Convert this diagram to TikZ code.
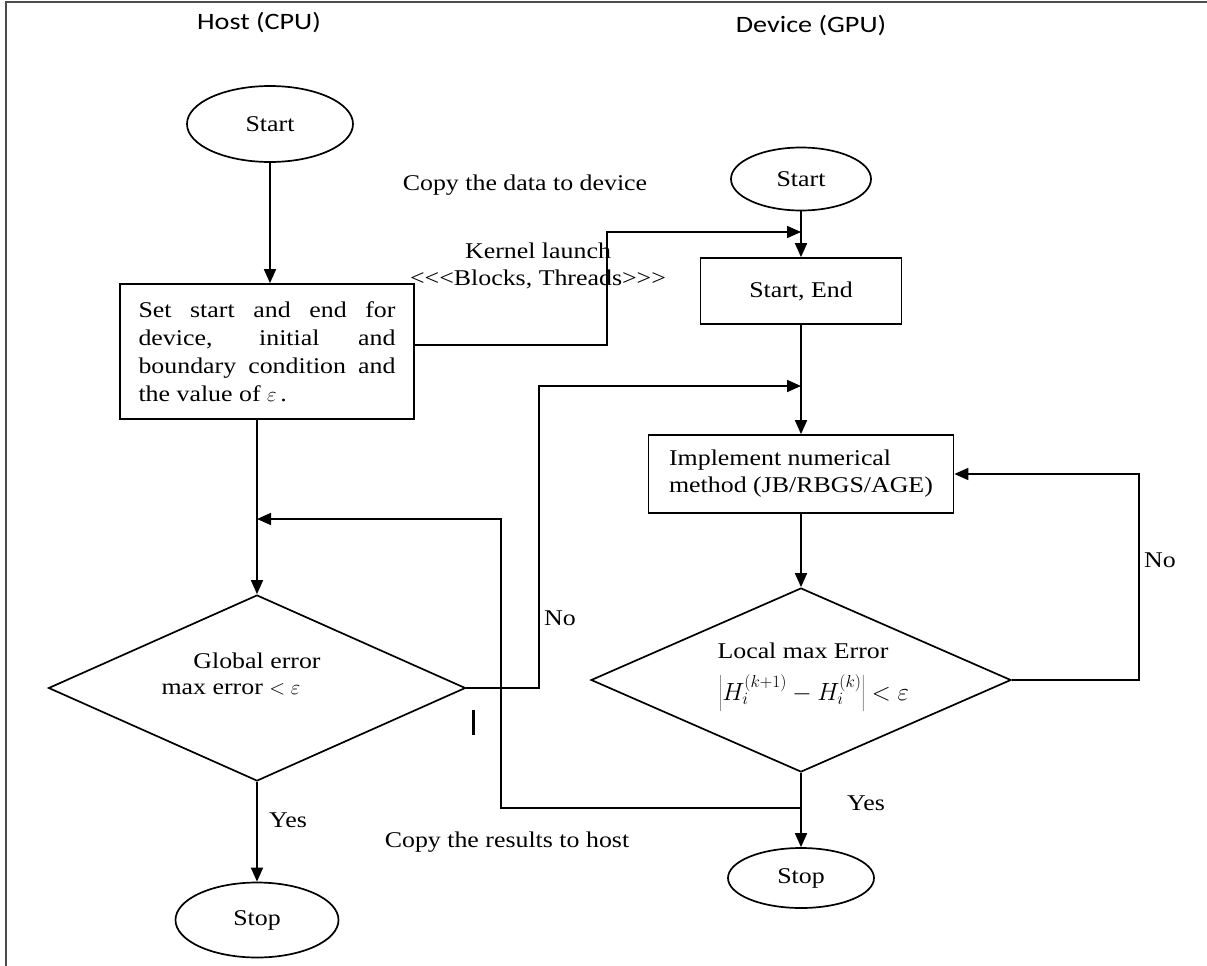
\documentclass[tikz,border=0pt]{standalone}
\usepackage{fontspec}
\setmainfont{Liberation Serif}[FakeStretch=1.15]
\newfontfamily\headfont{Carlito}[FakeStretch=1.2]
\usetikzlibrary{shapes.geometric,arrows.meta}
\begin{document}
\begin{tikzpicture}[x=1pt,y=-1pt,
  every node/.style={font=\fontsize{22.5}{28}\selectfont,inner sep=1pt},
  line/.style={draw=black,line width=1.7pt},
  arr/.style={line,-{Triangle[length=14pt,width=12pt]}},
  term/.style={ellipse,draw,line width=1.7pt,inner sep=0pt},
  proc/.style={rectangle,draw,line width=1.7pt},
  dec/.style={diamond,draw,line width=1.7pt,inner sep=0pt},
  head/.style={font=\headfont\fontsize{23.5}{28}\selectfont},
]
\useasboundingbox (0,0) rectangle (1207,966);
\fill[white] (0,0) rectangle (1207,966);
% page frame (top and left edges)
\draw[black!70,line width=2pt] (1207,2) -- (6,2) -- (6,966);

% column headings
\node[head] (hhead) at (259,23) {Host (CPU)};
\node[head] (dhead) at (811,26) {Device (GPU)};

% host column
\node[term,minimum width=166pt,minimum height=76pt] (hstart) at (270,124) {Start};
\node[proc,minimum width=294pt,minimum height=135pt,text width=257pt,
      align=justify,inner xsep=18.5pt,inner ysep=4pt] (hbox) at (267,351.5)
  {Set start and end for\linebreak device, initial and\linebreak boundary condition and\linebreak the value of $\varepsilon$\,.};
\node[dec,minimum width=417pt,minimum height=186pt] (hdia) at (257,688) {};
\node (gtxt1) at (257,661) {Global error};
\node (gtxt2) at (231,689) {max error $<\varepsilon$};
\node[term,minimum width=163pt,minimum height=75pt] (hstop) at (257,920) {Stop};

% device column
\node[term,minimum width=140pt,minimum height=63pt] (dstart) at (801,179) {Start};
\node[proc,minimum width=201pt,minimum height=66pt] (sebox) at (801,291) {Start, End};
\node[proc,minimum width=305pt,minimum height=78pt,align=left,inner sep=4pt,
      font=\fontsize{22.5}{27}\selectfont] (imbox) at (801,474)
  {Implement numerical\\method (JB/RBGS/AGE)};
\node[dec,minimum width=420pt,minimum height=184pt] (ldia) at (801,680) {};
\node (ltxt1) at (803,651) {Local max Error};
\node[inner sep=0pt] (ltxt2) at (814,693) {\fontsize{26}{30}\selectfont$\left|H_i^{(k+1)}-H_i^{(k)}\right|<\varepsilon$};
\node[term,minimum width=146pt,minimum height=60pt] (dstop) at (801,878) {Stop};

% transfer labels
\node (copyin) at (525,185) {Copy the data to device};
\node[align=center,font=\fontsize{22.5}{27}\selectfont] (launch) at (538,266)
  {Kernel launch\\<{}<{}<Blocks, Threads>{}>{}>};
\node (copyout) at (507,842) {Copy the results to host};
\node (nol) at (560,618) {No};
\node (nor) at (1160,560) {No};
\node (yesl) at (288,820) {Yes};
\node (yesr) at (866,803) {Yes};

% bend points
\coordinate (kbend) at (607,232);
\coordinate (kin) at (801,232);
\coordinate (nbend) at (539,386);
\coordinate (nin) at (801,386);
\coordinate (rj) at (801,808);
\coordinate (rb) at (501,519);
\coordinate (rin) at (257,519);
\coordinate (fb) at (1139,474);

% host flow
\draw[arr] (hstart.south) -- (hstart.south |- hbox.north);
\draw[arr] (hbox.south -| hdia.north) -- (hdia.north);
\draw[arr] (hdia.south) -- (hstop.north);
% kernel launch
\draw[arr] ([yshift=6.5pt]hbox.east) -| (kbend) -- (kin);
% device flow
\draw[arr] (dstart.south) -- (sebox.north);
\draw[arr] (sebox.south) -- (imbox.north);
\draw[arr] (imbox.south) -- (ldia.north);
\draw[arr] (ldia.south) -- (dstop.north);
\draw[arr] (ldia.east) -| (fb) -- (imbox.east);
% global check fails: relaunch
\draw[arr] (hdia.east) -| (nbend) -- (nin);
% results back to host
\draw[arr] (rj) -| (rb) -- (rin);

% short vertical stroke beside the global test
\draw[line width=3pt] (473,710) -- (473,735);
\end{tikzpicture}
\end{document}
